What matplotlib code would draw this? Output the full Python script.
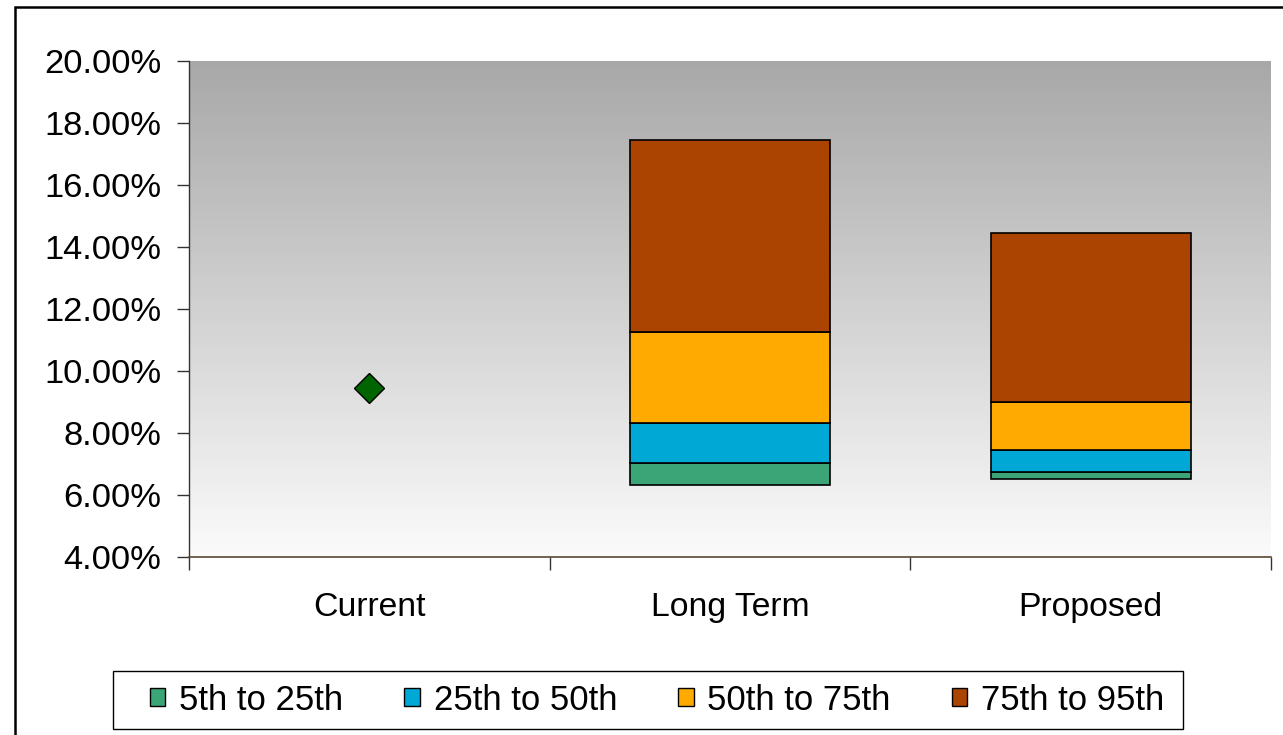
import numpy as np
import matplotlib
matplotlib.use("Agg")
import matplotlib.pyplot as plt
from matplotlib.patches import Patch, Rectangle
from matplotlib.ticker import FuncFormatter, FixedLocator

plt.rcParams["font.family"] = ["Liberation Sans", "DejaVu Sans"]

# Return distribution by scenario (percent)
categories = ["Current", "Long Term", "Proposed"]
p05 = [np.nan, 6.32, 6.51]
p25 = [np.nan, 7.02, 6.75]
p50 = [np.nan, 8.31, 7.45]
p75 = [np.nan, 11.25, 8.99]
p95 = [np.nan, 17.45, 14.44]
current_point = [9.44, np.nan, np.nan]

band_labels = ["5th to 25th", "25th to 50th", "50th to 75th", "75th to 95th"]
band_colors = ["#3ca577", "#00a8d6", "#ffaa00", "#aa4400"]

W, H, DPI = 1283, 735, 100
fig = plt.figure(figsize=(W / DPI, H / DPI), dpi=DPI)
fig.patch.set_facecolor("white")

# outer chart frame
fig.patches.append(Rectangle((15 / W, -0.05), 1.1, 1 - 7 / H + 0.05,
                             transform=fig.transFigure, fill=False,
                             edgecolor="black", linewidth=1.8, zorder=0))

left, right, top, bottom = 189, 1271, 61, 557
ax = fig.add_axes([left / W, 1 - bottom / H, (right - left) / W, (bottom - top) / H])

# vertical gradient background
grad = np.linspace(0, 1, 256).reshape(-1, 1)
cmap = matplotlib.colors.LinearSegmentedColormap.from_list("bg", ["#a8a8a8", "#fbfbfb"])
ax.imshow(grad, cmap=cmap, aspect="auto", extent=[0, 1, 0, 1],
          transform=ax.transAxes, zorder=0)

x = np.arange(len(categories))
edges = [p05, p25, p50, p75, p95]
width = 0.555
for i in range(4):
    lo = np.array(edges[i], dtype=float)
    hi = np.array(edges[i + 1], dtype=float)
    ax.bar(x, hi - lo, bottom=lo, width=width, color=band_colors[i],
           edgecolor="black", linewidth=1.2, zorder=3, label=band_labels[i])

ax.plot(x, current_point, linestyle="none", marker="D", markersize=15,
        markerfacecolor="#006400", markeredgecolor="black", markeredgewidth=1,
        zorder=4)

ax.set_xlim(-0.5, 2.5)
ax.set_ylim(4, 20)
ax.set_yticks(np.arange(4, 20.1, 2))
ax.yaxis.set_major_formatter(FuncFormatter(lambda v, p: f"{v:.2f}%"))
ax.tick_params(axis="y", labelsize=24.8, length=9, width=1, color="#333333",
               pad=11, direction="out")

ax.set_xticks(x)
ax.set_xticklabels(categories)
ax.xaxis.set_minor_locator(FixedLocator([-0.5, 0.5, 1.5, 2.5]))
ax.tick_params(axis="x", which="major", length=0, labelsize=24.3, pad=25)
ax.tick_params(axis="x", which="minor", length=9, width=1, color="#333333",
               direction="out")

for s in ["top", "right"]:
    ax.spines[s].set_visible(False)
ax.spines["left"].set_color("#333333")
ax.spines["left"].set_linewidth(1)
ax.spines["bottom"].set_color("#5a4632")
ax.spines["bottom"].set_linewidth(1.2)

# legend box frame
lx0, lx1, ly0, ly1 = 113, 1183, 671, 729
fig.patches.append(Rectangle((lx0 / W, 1 - ly1 / H), (lx1 - lx0) / W, (ly1 - ly0) / H,
                             transform=fig.transFigure, facecolor="white",
                             edgecolor="black", linewidth=1, zorder=1))

handles = [Patch(facecolor=c, edgecolor="black", linewidth=1) for c in band_colors]
leg = fig.legend(handles, band_labels, loc="center",
                 bbox_to_anchor=(657 / W, 1 - 700 / H), ncol=4,
                 fontsize=25, frameon=False,
                 handlelength=0.45, handleheight=0.45, handletextpad=0.4,
                 columnspacing=1.75, borderpad=0, borderaxespad=0)
leg.set_zorder(2)

fig.savefig("out.png", dpi=DPI, facecolor="white")
